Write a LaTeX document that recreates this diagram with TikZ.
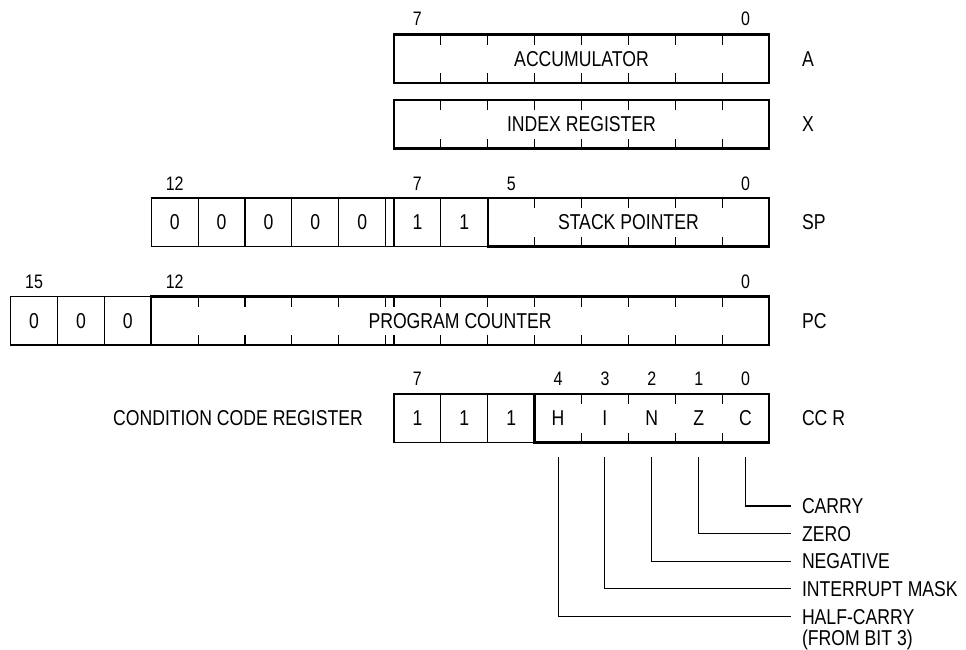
\documentclass[tikz,border=0pt]{standalone}
\usepackage{fontspec}
\setmainfont[FakeStretch=0.82]{Liberation Sans}
\begin{document}
\begin{tikzpicture}[x=1pt,y=-1pt,
  every node/.style={inner sep=0pt, outer sep=0pt, font=\fontsize{21.5}{25}\selectfont},
  thinline/.style={line width=1.1pt},
  thickline/.style={line width=2.4pt},
  cellbox/.style={draw, thinline, minimum width=46.875pt, minimum height=48.5pt},
  cellpos/.style={minimum width=46.875pt, minimum height=48.5pt},
  regbox/.style={draw, thickline, minimum height=48.5pt},
  numlbl/.style={font=\fontsize{19.5}{22}\selectfont},
  reglbl/.style={anchor=west},
  flaglbl/.style={anchor=west}]
\useasboundingbox (0,0) rectangle (966,649);

% ---------- Accumulator ----------
\node[regbox, minimum width=375pt] (acc) at (581.5,58.75) {ACCUMULATOR};
\foreach \x in {440.875,487.75,534.625,581.5,628.375,675.25,722.125}{
  \draw[thinline] (\x,34.5) -- ++(0,10);
  \draw[thinline] (\x,83) -- ++(0,-10);
}
\node[numlbl] (a7) at (417.44,19) {7};
\node[numlbl] (a0) at (745.56,19) {0};
\node[reglbl] (lA) at (802,58.75) {A};

% ---------- Index register ----------
\node[regbox, minimum width=375pt] (idx) at (581.5,124.25) {INDEX REGISTER};
\foreach \x in {440.875,487.75,534.625,581.5,628.375,675.25,722.125}{
  \draw[thinline] (\x,100) -- ++(0,10);
  \draw[thinline] (\x,148.5) -- ++(0,-10);
}
\node[reglbl] (lX) at (802,124.25) {X};

% ---------- Stack pointer ----------
\node[cellbox] (sp12) at (174.66,222.25) {0};
\node[cellbox] (sp11) at (221.54,222.25) {0};
\node[cellbox] (sp10) at (268.41,222.25) {0};
\node[cellbox] (sp9)  at (315.29,222.25) {0};
\node[cellbox] (sp8)  at (362.16,222.25) {0};
\node[cellbox] (sp7)  at (417.44,222.25) {1};
\node[cellbox] (sp6)  at (464.31,222.25) {1};
\draw[thinline] (sp8.north east) -- (sp7.north west);
\draw[thinline] (sp8.south east) -- (sp7.south west);
\node[regbox, minimum width=281.25pt] (sp) at (628.375,222.25) {STACK POINTER};
\foreach \x in {534.625,581.5,628.375,675.25,722.125}{
  \draw[thinline] (\x,198) -- ++(0,10);
  \draw[thinline] (\x,246.5) -- ++(0,-10);
}
\node[numlbl] (s12) at (174.66,184) {12};
\node[numlbl] (s7)  at (417.44,184) {7};
\node[numlbl] (s5)  at (511.19,184) {5};
\node[numlbl] (s0)  at (745.56,184) {0};
\node[reglbl] (lSP) at (802,222.25) {SP};

% ---------- Program counter ----------
\node[cellbox] (pc15) at (34.04,320.75) {0};
\node[cellbox] (pc14) at (80.91,320.75) {0};
\node[cellbox] (pc13) at (127.79,320.75) {0};
\node[regbox, minimum width=617.775pt] (pc) at (460.11,320.75) {PROGRAM COUNTER};
\foreach \x in {198.1,244.975,291.85,338.725,385.6,394,440.875,487.75,534.625,581.5,628.375,675.25,722.125}{
  \draw[thinline] (\x,296.5) -- ++(0,10);
  \draw[thinline] (\x,345) -- ++(0,-10);
}
\node[numlbl] (p15) at (34.04,282) {15};
\node[numlbl] (p12) at (174.66,282) {12};
\node[numlbl] (p0)  at (745.56,282) {0};
\node[reglbl] (lPC) at (802,320.75) {PC};

% ---------- Condition code register ----------
\node (ccrname) at (238,418.25) {CONDITION CODE REGISTER};
\node[cellbox] (cc7) at (417.44,418.25) {1};
\node[cellbox] (cc6) at (464.31,418.25) {1};
\node[cellbox] (cc5) at (511.19,418.25) {1};
\node[regbox, minimum width=234.375pt] (ccr) at (651.81,418.25) {};
\foreach \x in {581.5,628.375,675.25,722.125}{
  \draw[thinline] (\x,394) -- ++(0,10);
  \draw[thinline] (\x,442.5) -- ++(0,-10);
}
\node[cellpos] (ccH) at (558.06,418.25) {H};
\node[cellpos] (ccI) at (604.94,418.25) {I};
\node[cellpos] (ccN) at (651.81,418.25) {N};
\node[cellpos] (ccZ) at (698.69,418.25) {Z};
\node[cellpos] (ccC) at (745.56,418.25) {C};
\node[numlbl] (c7) at (417.44,379) {7};
\node[numlbl] (c4) at (558.06,379) {4};
\node[numlbl] (c3) at (604.94,379) {3};
\node[numlbl] (c2) at (651.81,379) {2};
\node[numlbl] (c1) at (698.69,379) {1};
\node[numlbl] (c0) at (745.56,379) {0};
\node[reglbl] (lCCR) at (802,418.25) {CC R};

% ---------- Flag legends ----------
\coordinate (tH) at (558.06,457);
\coordinate (tI) at (604.94,457);
\coordinate (tN) at (651.81,457);
\coordinate (tZ) at (698.69,457);
\coordinate (tC) at (745.56,457);
\node[flaglbl] (fC) at (802,506) {CARRY};
\node[flaglbl] (fZ) at (802,533.6) {ZERO};
\node[flaglbl] (fN) at (802,561.2) {NEGATIVE};
\node[flaglbl] (fI) at (802,588.8) {INTERRUPT MASK};
\node[anchor=base west, font=\fontsize{21.5}{21}\selectfont] (fH) at (802,624)
  {\begin{tabular}[t]{@{}l@{}}HALF-CARRY\\(FROM BIT 3)\end{tabular}};
\draw[thinline] (tC) |- ([xshift=-11pt]fC.west);
\draw[thinline] (tZ) |- ([xshift=-11pt]fZ.west);
\draw[thinline] (tN) |- ([xshift=-11pt]fN.west);
\draw[thinline] (tI) |- ([xshift=-11pt]fI.west);
\draw[thinline] (tH) |- ([xshift=-11pt,yshift=7.6pt]fH.base west);
\end{tikzpicture}
\end{document}
